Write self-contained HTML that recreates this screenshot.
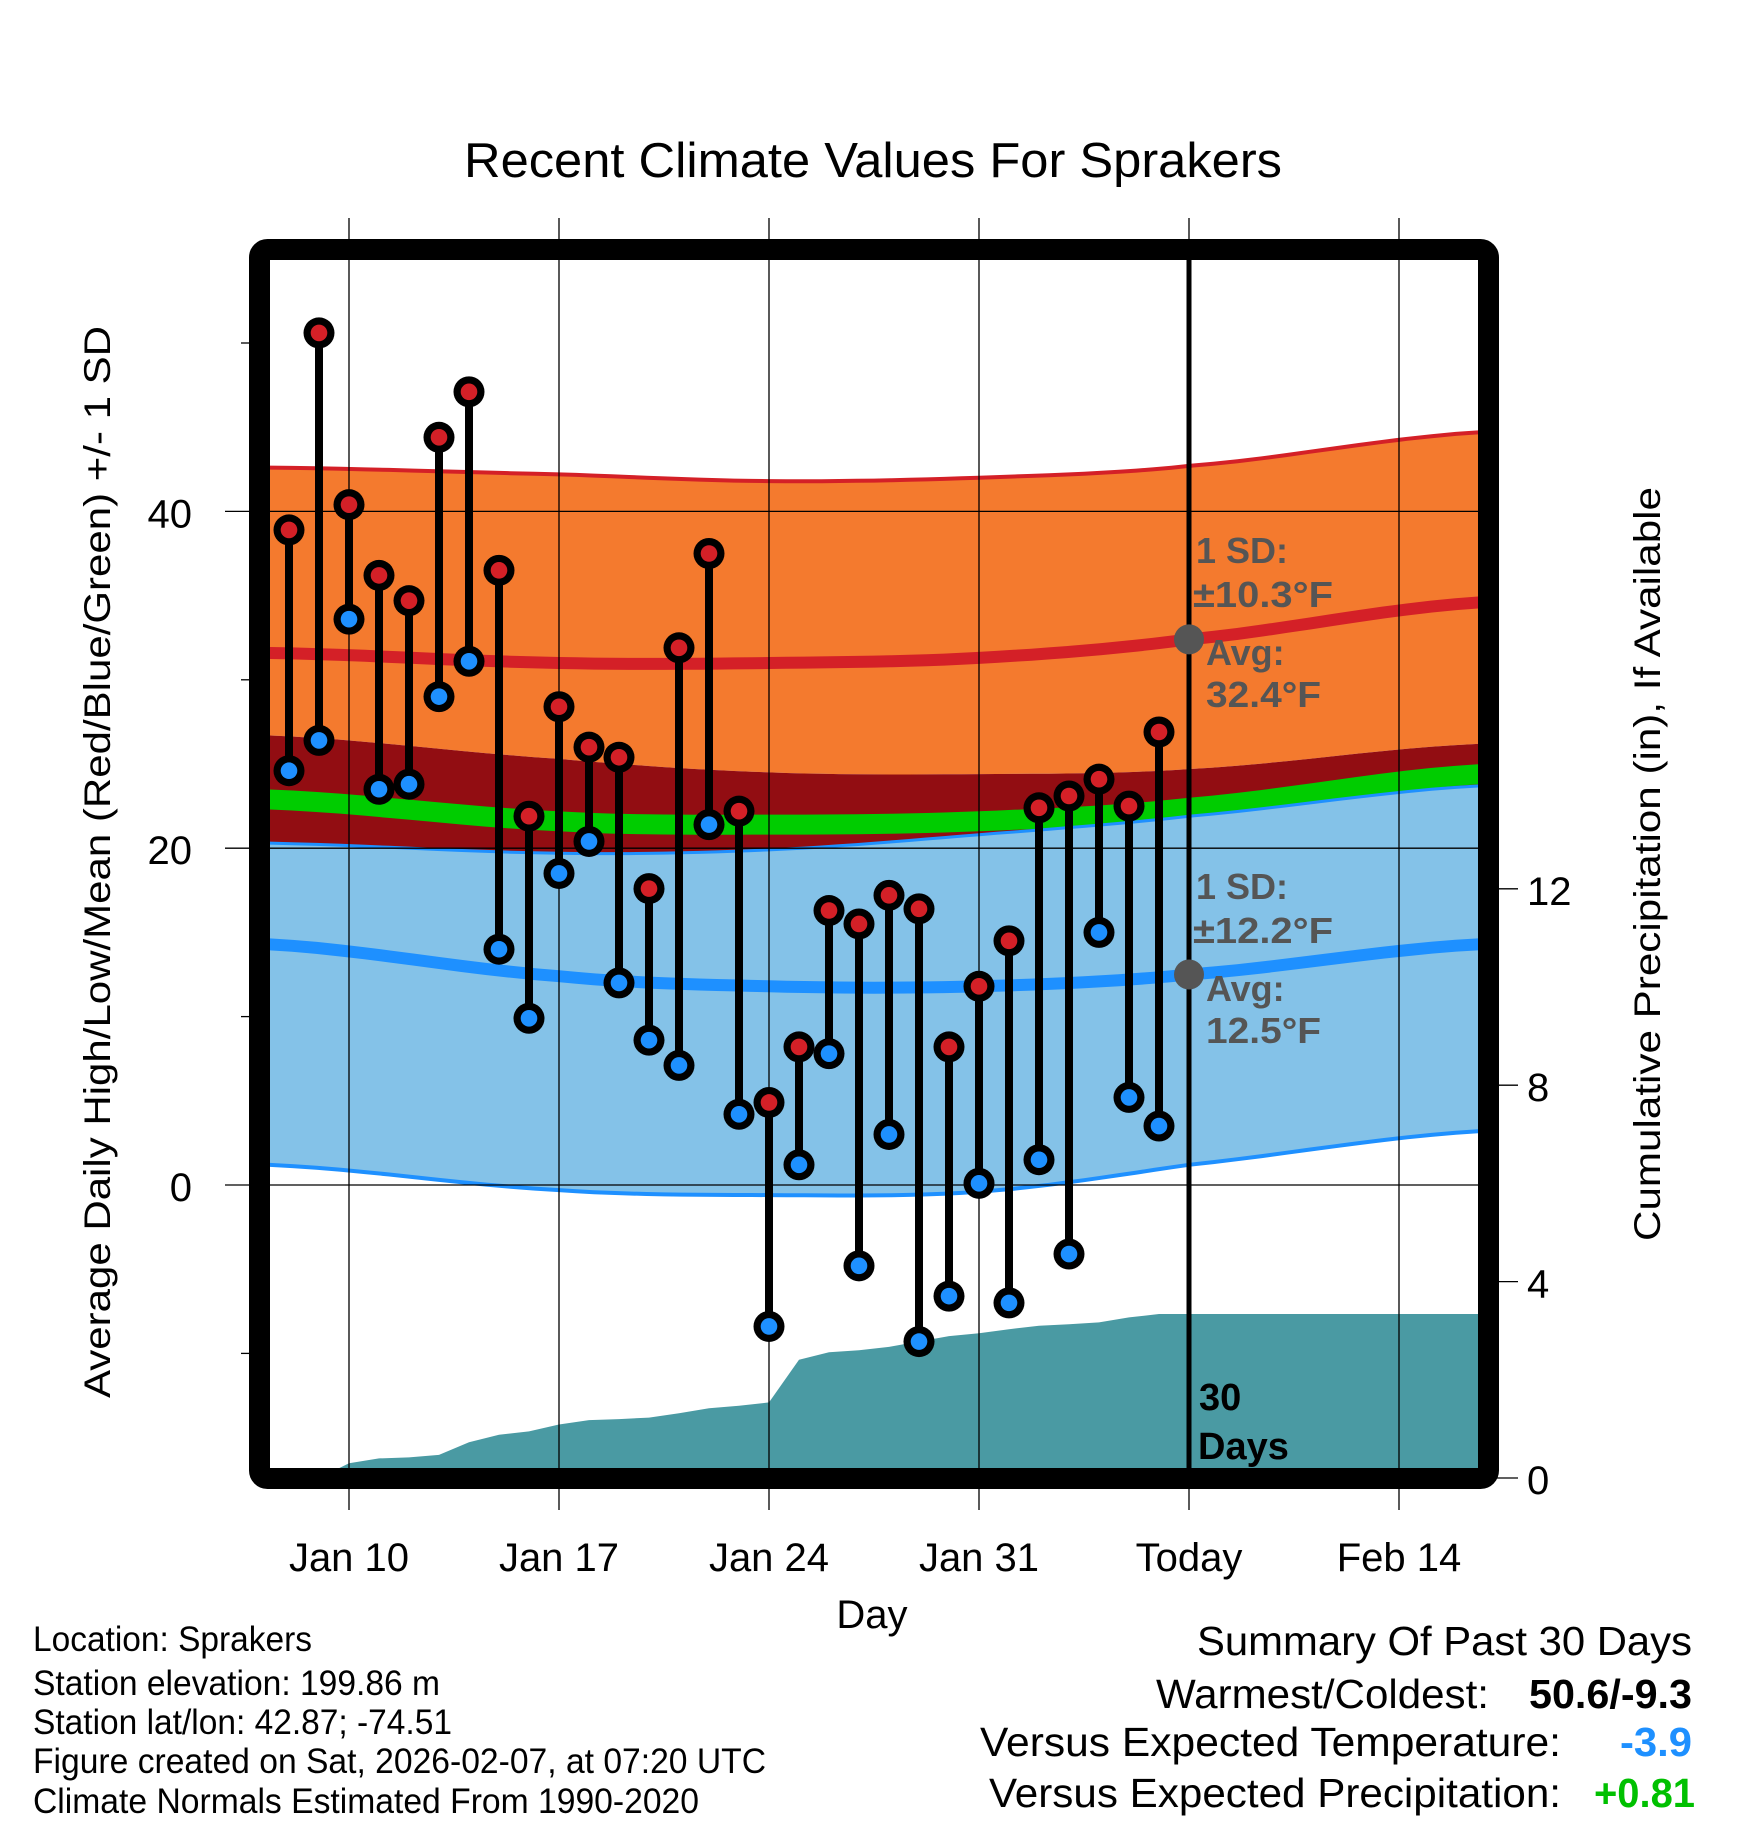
<!DOCTYPE html>
<html><head><meta charset="utf-8"><style>
html,body{margin:0;padding:0;background:#fff}
svg{display:block;font-family:"Liberation Sans",Arial,sans-serif}
</style></head><body>
<svg id="chart" width="1748" height="1828" viewBox="0 0 1748 1828" xmlns="http://www.w3.org/2000/svg">
<rect width="1748" height="1828" fill="#fff"/>
<defs><clipPath id="plotclip"><rect x="270" y="260" width="1208" height="1208"/></clipPath></defs>
<g id="bands" clip-path="url(#plotclip)"></g>
<g id="grid"></g>
<g id="marks"></g>
<g id="annot"></g>
<rect x="259.5" y="249.5" width="1229" height="1229" rx="8" fill="none" stroke="#000" stroke-width="21"/>
<g id="axes"></g>
<text x="873" y="177" font-size="49" text-anchor="middle" textLength="818" lengthAdjust="spacingAndGlyphs">Recent Climate Values For Sprakers</text>
<text x="872" y="1628" font-size="40" text-anchor="middle">Day</text>
<text transform="translate(110,862) rotate(-90)" font-size="37" text-anchor="middle" textLength="1072" lengthAdjust="spacingAndGlyphs">Average Daily High/Low/Mean (Red/Blue/Green) +/- 1 SD</text>
<text transform="translate(1660,864) rotate(-90)" font-size="37" text-anchor="middle" textLength="754" lengthAdjust="spacingAndGlyphs">Cumulative Precipitation (in), If Available</text>
<g font-size="35">
<text x="33" y="1651" textLength="279" lengthAdjust="spacingAndGlyphs">Location: Sprakers</text>
<text x="33" y="1695" textLength="407" lengthAdjust="spacingAndGlyphs">Station elevation: 199.86 m</text>
<text x="33" y="1734" textLength="419" lengthAdjust="spacingAndGlyphs">Station lat/lon: 42.87; -74.51</text>
<text x="33" y="1773" textLength="733" lengthAdjust="spacingAndGlyphs">Figure created on Sat, 2026-02-07, at 07:20 UTC</text>
<text x="33" y="1813" textLength="666" lengthAdjust="spacingAndGlyphs">Climate Normals Estimated From 1990-2020</text>
</g>
<g font-size="41">
<text x="1197" y="1655" textLength="495" lengthAdjust="spacingAndGlyphs">Summary Of Past 30 Days</text>
<text x="1156" y="1708" textLength="333" lengthAdjust="spacingAndGlyphs">Warmest/Coldest:</text>
<text x="1529" y="1708" font-weight="bold" textLength="163" lengthAdjust="spacingAndGlyphs">50.6/-9.3</text>
<text x="980" y="1756" textLength="581" lengthAdjust="spacingAndGlyphs">Versus Expected Temperature:</text>
<text x="1620" y="1756" font-weight="bold" fill="#1e90ff" textLength="72" lengthAdjust="spacingAndGlyphs">-3.9</text>
<text x="989" y="1807" textLength="572" lengthAdjust="spacingAndGlyphs">Versus Expected Precipitation:</text>
<text x="1594" y="1807" font-weight="bold" fill="#00c000" textLength="101" lengthAdjust="spacingAndGlyphs">+0.81</text>
</g>
</svg>
<script>
// ---- data ----
const dayLabels = ["Jan 10","Jan 17","Jan 24","Jan 31","Today","Feb 14"];
const dayTicks = [0,7,14,21,28,35];
const obsDays = [-2,-1,0,1,2,3,4,5,6,7,8,9,10,11,12,13,14,15,16,17,18,19,20,21,22,23,24,25,26,27];
const highs = [38.9,50.6,40.4,36.2,34.7,44.4,47.1,36.5,21.9,28.4,26.0,25.4,17.6,31.9,37.5,22.2,4.9,8.2,16.3,15.5,17.2,16.4,8.2,11.8,14.5,22.4,23.1,24.1,22.5,26.9];
const lows = [24.6,26.4,33.6,23.5,23.8,29.0,31.1,14.0,9.9,18.5,20.4,12.0,8.6,7.1,21.4,4.2,-8.4,1.2,7.8,-4.8,3.0,-9.3,-6.6,0.1,-7.0,1.5,-4.1,15.0,5.2,3.5];
const precip = [0,0,0.3,0.4,0.42,0.47,0.73,0.88,0.95,1.09,1.18,1.2,1.23,1.32,1.42,1.47,1.54,2.41,2.56,2.6,2.67,2.78,2.89,2.95,3.03,3.1,3.13,3.17,3.27,3.34];
const normDays = [-2.7,7,14,21,28,37.7];
const normHighAvg = [31.6,31.0,31.0,31.3,32.4,34.6];
const normHighUpper = [42.6,42.2,41.8,42.0,42.7,44.7];
const normHighLower = [26.7,25.3,24.5,24.4,24.7,26.2];
const normMean = [22.9,21.6,21.4,21.6,22.4,24.4];
const normLowAvg = [14.3,12.4,11.8,11.8,12.5,14.3];
const normLowUpper = [20.3,19.7,19.9,20.8,21.9,23.7];
const normLowLower = [1.2,-0.3,-0.6,-0.4,1.2,3.2];
const tempTicks = [0,20,40];
const tempMinor = [-10,10,30,50];
const precipTicks = [0,4,8,12];

// ---- scales ----
const X = d => 349 + d*30;
const Y = t => 1185 - t*16.84;
const P = p => 1478 - p*49.1;
const NS = "http://www.w3.org/2000/svg";
function mk(tag, attrs, parent){const e=document.createElementNS(NS,tag);for(const k in attrs)e.setAttribute(k,attrs[k]);parent.appendChild(e);return e;}
function smooth(days, vals, n){
  const pts=[];
  for(let i=0;i<days.length-1;i++){
    const p0=vals[Math.max(i-1,0)],p1=vals[i],p2=vals[i+1],p3=vals[Math.min(i+2,vals.length-1)];
    for(let s=0;s<n;s++){const t=s/n;
      const v=0.5*((2*p1)+(-p0+p2)*t+(2*p0-5*p1+4*p2-p3)*t*t+(-p0+3*p1-3*p2+p3)*t*t*t);
      pts.push([X(days[i]+(days[i+1]-days[i])*t),Y(v)]);}
  }
  pts.push([X(days[days.length-1]),Y(vals[vals.length-1])]);
  return pts;
}
const ptsStr = a => a.map(p=>p[0].toFixed(1)+","+p[1].toFixed(1)).join(" ");
function band(upper, lower, fill, name){
  const u=smooth(normDays,upper,12), l=smooth(normDays,lower,12).reverse();
  const e=mk("polygon",{points:ptsStr(u.concat(l)),fill:fill},bands);
  
  
}
function line(vals, color, w, name){
  const e=mk("polyline",{points:ptsStr(smooth(normDays,vals,12)),fill:"none",stroke:color,"stroke-width":w},bands);
  
  
}
const bands=document.getElementById("bands");
band(normHighUpper,normHighLower,"#f47a2e","high-sd-band");
band(normHighLower,normLowUpper,"#920d12","overlap-band");
line(normMean,"#00cc00",20,"mean-normal-line");
band(normLowUpper,normLowLower,"#84c2e8","low-sd-band");
line(normHighUpper,"#d42027",4,"high-upper-sd-line");
line(normHighAvg,"#d42027",12,"high-avg-line");
line(normLowUpper,"#1e90ff",3,"low-upper-sd-line");
line(normLowLower,"#1e90ff",4,"low-lower-sd-line");
line(normLowAvg,"#1e90ff",12,"low-avg-line");
{
  const pts=[[X(obsDays[0]),P(0)]];
  obsDays.forEach((d,i)=>pts.push([X(d),P(precip[i])]));
  pts.push([1478,P(precip[precip.length-1])],[1478,P(0)]);
  const e=mk("polygon",{points:ptsStr(pts),fill:"#4a9aa3"},bands);
  
  
}
const grid=document.getElementById("grid");
dayTicks.forEach(d=>{
  const e=mk("line",{x1:X(d),x2:X(d),y1:218,y2:1510,stroke:"#000","stroke-width":d===28?0:1.3},grid);
  
  
});
tempTicks.forEach(t=>{
  const e=mk("line",{x1:225,x2:1478,y1:Y(t),y2:Y(t),stroke:"#000","stroke-width":1.3},grid);
  
  
});
{
  const e=mk("line",{x1:X(28),x2:X(28),y1:260,y2:1468,stroke:"#000","stroke-width":5},grid);
  
  
  const e2=mk("line",{x1:X(28),x2:X(28),y1:1489,y2:1510,stroke:"#000","stroke-width":1.3},grid);
  
  
  const e3=mk("line",{x1:X(28),x2:X(28),y1:218,y2:240,stroke:"#000","stroke-width":1.3},grid);
  
  
}
const marks=document.getElementById("marks");
obsDays.forEach((d,i)=>{
  const x=X(d);
  const s=mk("line",{x1:x,x2:x,y1:Y(highs[i]),y2:Y(lows[i]),stroke:"#000","stroke-width":8},marks);
  
  
});
obsDays.forEach((d,i)=>{
  const x=X(d);
  [[highs[i],"#d42027","high-point"],[lows[i],"#1e90ff","low-point"]].forEach(([v,c,n])=>{
    const o=mk("circle",{cx:x,cy:Y(v),r:15.5,fill:"#000"},marks);
    
    
    const ci=mk("circle",{cx:x,cy:Y(v),r:8.3,fill:c},marks);
    
    
  });
});
const annot=document.getElementById("annot");
function txt(x,y,s,attrs,name,parent){const e=mk("text",Object.assign({x:x,y:y},attrs),parent||annot);e.textContent=s;
  
  
  return e;}
[[32.4,"±10.3°F","32.4°F",563,607,665,707],[12.5,"±12.2°F","12.5°F",899,943,1001,1043]].forEach(a=>{
  const c=mk("circle",{cx:X(28),cy:Y(a[0]),r:15,fill:"#555"},annot);
  
  
  const st={"font-size":36,"font-weight":"bold",fill:"#555"};
  txt(1196,a[3],"1 SD:",st,"sd-label");
  txt(1193,a[4],a[1],Object.assign({textLength:140,lengthAdjust:"spacingAndGlyphs"},st),"sd-value");
  txt(1206,a[5],"Avg:",st,"avg-label");
  txt(1206,a[6],a[2],Object.assign({textLength:115,lengthAdjust:"spacingAndGlyphs"},st),"avg-value");
});
txt(1199,1410,"30",{"font-size":38,"font-weight":"bold"},"days-count");
txt(1198,1459,"Days",{"font-size":38,"font-weight":"bold"},"days-label");
const axes=document.getElementById("axes");
dayTicks.forEach((d,i)=>{
  txt(X(d),1571,dayLabels[i],{"font-size":40,"text-anchor":"middle"},"x-tick-label",axes);
});
tempTicks.forEach(t=>{
  txt(192,Y(t)+16,String(t),{"font-size":40,"text-anchor":"end"},"y-tick-label",axes);
});
tempMinor.forEach(t=>{
  const e=mk("line",{x1:241,x2:252,y1:Y(t),y2:Y(t),stroke:"#000","stroke-width":1.3},axes);
  
  
});
precipTicks.forEach(p=>{
  const e=mk("line",{x1:1495,x2:1518,y1:P(p),y2:P(p),stroke:"#000","stroke-width":1.3},axes);
  
  
  txt(1527,P(p)+16,String(p),{"font-size":40},"y2-tick-label",axes);
});
</script>
</body></html>
